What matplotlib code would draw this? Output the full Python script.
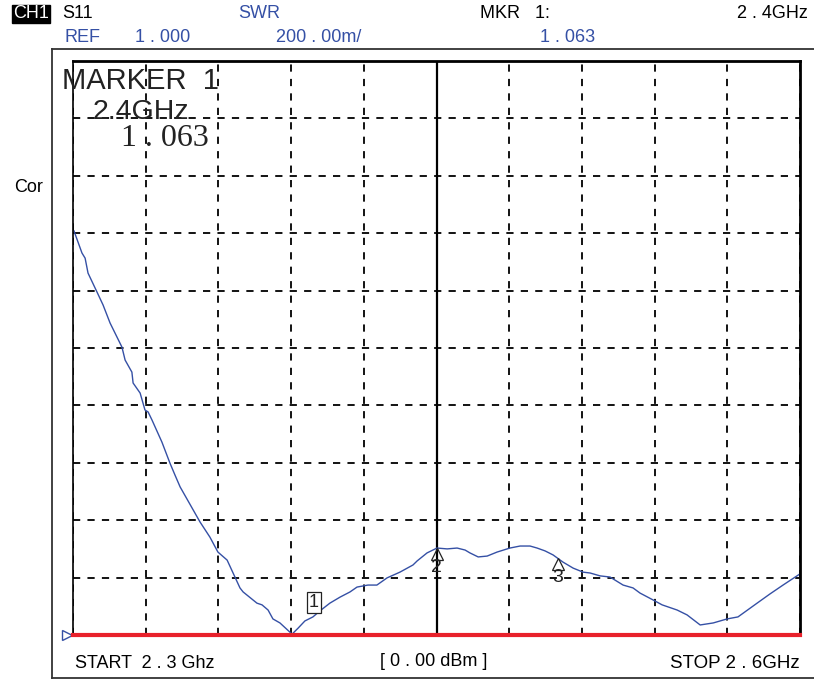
import numpy as np
import matplotlib
matplotlib.use('Agg')
from matplotlib import pyplot as plt
from matplotlib import transforms

plt.rcParams['font.family'] = ['Liberation Sans', 'DejaVu Sans']

# trace: frequency (GHz) and SWR
freq = [2.3004, 2.3037, 2.3050, 2.3062, 2.3099, 2.3124, 2.3153, 2.3202, 2.3215, 2.3243,
        2.3248, 2.3277, 2.3297, 2.3310, 2.3326, 2.3367, 2.3400, 2.3421, 2.3442, 2.3524,
        2.3565, 2.3598, 2.3636, 2.3689, 2.3702, 2.3759, 2.3780, 2.3805, 2.3825, 2.3854,
        2.3904, 2.3929, 2.3957, 2.3990, 2.4019, 2.4060, 2.4102, 2.4143, 2.4172, 2.4217,
        2.4254, 2.4296, 2.4349, 2.4403, 2.4420, 2.4461, 2.4502, 2.4544, 2.4585, 2.4618,
        2.4638, 2.4672, 2.4709, 2.4750, 2.4803, 2.4845, 2.4886, 2.4915, 2.4948, 2.4981,
        2.5022, 2.5064, 2.5105, 2.5134, 2.5175, 2.5216, 2.5270, 2.5311, 2.5340, 2.5394,
        2.5431, 2.5493, 2.5534, 2.5588, 2.5642, 2.5699, 2.5744, 2.5823, 2.5876, 2.5930,
        2.6000]
swr = [2.408, 2.331, 2.313, 2.261, 2.195, 2.150, 2.087, 2.003, 1.958, 1.916,
       1.878, 1.843, 1.784, 1.777, 1.749, 1.672, 1.599, 1.557, 1.516, 1.394,
       1.341, 1.289, 1.261, 1.164, 1.150, 1.111, 1.105, 1.087, 1.056, 1.042,
       1.003, 1.024, 1.049, 1.063, 1.084, 1.111, 1.132, 1.150, 1.167, 1.174,
       1.174, 1.199, 1.219, 1.244, 1.258, 1.286, 1.303, 1.300, 1.303, 1.296,
       1.286, 1.272, 1.275, 1.289, 1.303, 1.310, 1.310, 1.303, 1.293, 1.279,
       1.254, 1.233, 1.219, 1.216, 1.206, 1.202, 1.174, 1.164, 1.146, 1.122,
       1.105, 1.087, 1.070, 1.035, 1.042, 1.056, 1.063, 1.111, 1.143, 1.174,
       1.213]

marker_freq = [2.40, 2.45, 2.50]
marker_names = ['1', '2', '3']

start_f, stop_f = 2.3, 2.6
ref_val, per_div = 1.0, 0.2

W, H = 814, 680
fig = plt.figure(figsize=(W / 100, H / 100), dpi=100)

def fx(x):
    return x / W

def fy(y):
    return 1 - y / H

# outer frame
outer = fig.add_axes([fx(52), fy(678), fx(W - 52) + 0.01, (678 - 49) / H])
outer.set_xticks([])
outer.set_yticks([])
outer.patch.set_alpha(0)
outer.spines['right'].set_visible(False)
for s in ['left', 'top', 'bottom']:
    outer.spines[s].set_linewidth(1.3)
    outer.spines[s].set_color('#333333')

ax = fig.add_axes([fx(73), fy(635), fx(800 - 73), (635 - 61) / H])
ax.set_xlim(start_f, stop_f)
ax.set_ylim(ref_val, ref_val + 10 * per_div)
ax.set_xticks(np.linspace(start_f, stop_f, 11))
ax.set_yticks(np.linspace(ref_val, ref_val + 10 * per_div, 11))
ax.tick_params(length=0, labelbottom=False, labelleft=False)
ax.grid(True, color='black', linestyle=(0, (4, 4)), linewidth=1.3)
ax.spines['top'].set_linewidth(2)
ax.spines['right'].set_linewidth(2)
ax.spines['left'].set_linewidth(1.2)
ax.spines['bottom'].set_visible(False)
ax.patch.set_alpha(0)

# center line
ax.axvline((start_f + stop_f) / 2, color='black', linewidth=1.6)

blue = '#3550A5'
ax.plot(freq, swr, color=blue, linewidth=1.0)
ax.axhline(ref_val, color='#E8212B', linewidth=3, clip_on=False, zorder=5)
ax.plot([-0.008], [ref_val], marker='>', markersize=7, markerfacecolor='none',
        markeredgecolor=blue, markeredgewidth=1, transform=ax.get_yaxis_transform(),
        clip_on=False)

marker_swr = np.interp(marker_freq, freq, swr)

# marker 1: boxed label
ax.annotate(marker_names[0], (marker_freq[0], marker_swr[0]), xytext=(-1, 3),
            textcoords='offset points', ha='center', va='bottom', fontsize=13,
            color='#222222',
            bbox=dict(boxstyle='square,pad=0.12', fc='white', ec='#222222', lw=0.9))

# markers 2 and 3: open triangles
for f, v, name in zip(marker_freq[1:], marker_swr[1:], marker_names[1:]):
    tr = transforms.offset_copy(ax.transData, fig=fig, x=0, y=-4, units='points')
    ax.plot([f], [v], marker='^', markersize=9, markerfacecolor='none',
            markeredgecolor='#222222', markeredgewidth=0.9, transform=tr)
    ax.annotate(name, (f, v), xytext=(0, -8), textcoords='offset points',
                ha='center', va='top', fontsize=14, color='#222222')

# header
fs = 13
fig.text(fx(13), fy(14), 'CH1', color='white', fontsize=fs, va='center', ha='left',
         bbox=dict(boxstyle='square,pad=0.05', fc='black', ec='black'))
fig.text(fx(62), fy(14), 'S11', fontsize=fs, va='center')
fig.text(fx(238), fy(14), 'SWR', fontsize=fs, va='center', color=blue)
fig.text(fx(480), fy(14), 'MKR   1:', fontsize=fs, va='center')
fig.text(fx(808), fy(14), '2 . 4GHz', fontsize=fs, va='center', ha='right')
fig.text(fx(64), fy(38), 'REF', fontsize=fs, va='center', color=blue)
fig.text(fx(135), fy(38), '1 . 000', fontsize=fs, va='center', color=blue)
fig.text(fx(276), fy(38), '200 . 00m/', fontsize=fs, va='center', color=blue)
fig.text(fx(540), fy(38), '1 . 063', fontsize=fs, va='center', color=blue)

fig.text(fx(14), fy(187), 'Cor', fontsize=fs, va='center')

# marker readout
fig.text(fx(62), fy(81), 'MARKER  1', fontsize=21, va='center', color='#222222')
fig.text(fx(93), fy(112), '2.4GHz', fontsize=20.5, va='center', color='#222222')
fig.text(fx(121), fy(138), '1 . 063', fontsize=23, va='center', color='#222222',
         family='Liberation Serif')

# footer
fig.text(fx(75), fy(663), 'START  2 . 3 Ghz', fontsize=13, va='center')
fig.text(fx(380), fy(662), '[ 0 . 00 dBm ]', fontsize=13, va='center')
fig.text(fx(800), fy(663), 'STOP 2 . 6GHz', fontsize=13.5, va='center', ha='right')

fig.savefig('out.png', dpi=100)
